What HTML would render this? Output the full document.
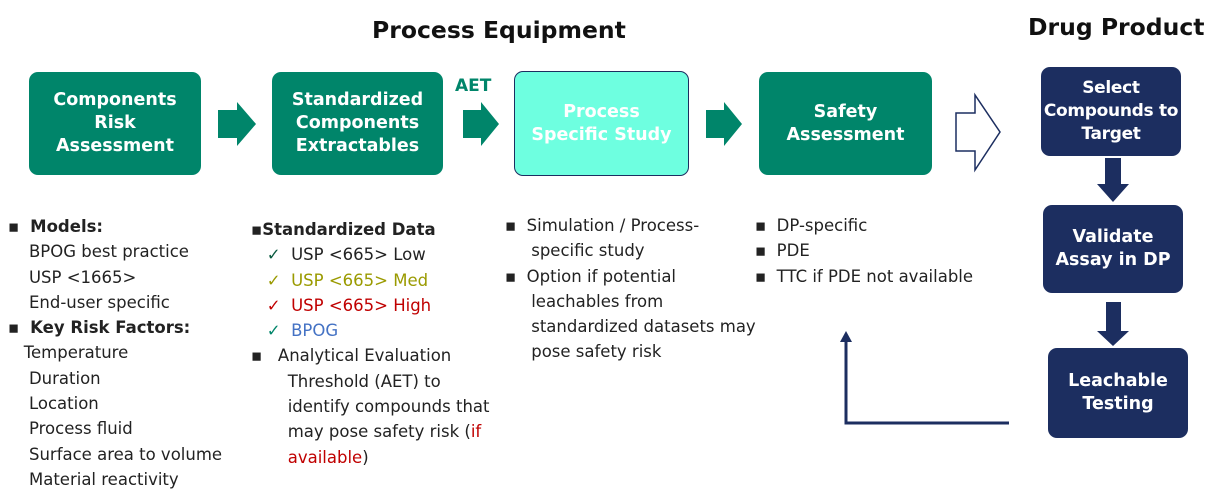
<!DOCTYPE html>
<html><head><style>
body{margin:0;width:1216px;height:496px;background:#fff;position:relative;font-family:"DejaVu Sans","Liberation Sans",sans-serif;overflow:hidden}
.b{position:absolute;display:flex;align-items:center;justify-content:center;text-align:center;color:#fff;font-weight:bold;font-size:17.5px;line-height:23px;border-radius:9px;box-sizing:border-box;white-space:nowrap}
.g{background:#00856a}
.n{background:#1c2e60}
.t{position:absolute;font-size:16.5px;color:#222;line-height:25.3px;white-space:nowrap}
h1{position:absolute;margin:0;font-size:23.5px;font-weight:bold;color:#111}
</style></head><body>
<h1 style="left:372px;top:16px">Process Equipment</h1>
<h1 style="left:1028px;top:13px">Drug Product</h1>
<div class="b g" style="left:29px;top:72px;width:172px;height:103px">Components<br>Risk<br>Assessment</div>
<div class="b g" style="left:272px;top:72px;width:171px;height:103px">Standardized<br>Components<br>Extractables</div>
<div class="b" style="left:514px;top:71px;width:175px;height:105px;background:#6effe0;border:1.5px solid #1c2e60">Process<br>Specific Study</div>
<div class="b g" style="left:759px;top:72px;width:173px;height:103px">Safety<br>Assessment</div>
<div class="b n" style="left:1041px;top:67px;width:140px;height:89px;font-size:17px;letter-spacing:-0.3px">Select<br>Compounds to<br>Target</div>
<div class="b n" style="left:1043px;top:205px;width:140px;height:88px">Validate<br>Assay in DP</div>
<div class="b n" style="left:1048px;top:348px;width:140px;height:90px">Leachable<br>Testing</div>
<div style="position:absolute;left:455px;top:76px;font-weight:bold;font-size:17px;color:#00856a">AET</div>
<svg width="1216" height="496" style="position:absolute;left:0;top:0">
<polygon points="218,110 237,110 237,102 256,124 237,146 237,138 218,138" fill="#00856a"/>
<polygon points="463,110 481,110 481,102 499,124 481,146 481,138 463,138" fill="#00856a"/>
<polygon points="706,110 724,110 724,102 742,124 724,146 724,138 706,138" fill="#00856a"/>
<polygon points="956,113 975,113 975,95 1000,132 975,170 975,151 956,151" fill="#fff" stroke="#1c2e60" stroke-width="1.5"/>
<polygon points="1105,158 1121,158 1121,184 1129,184 1113,202 1097,184 1105,184" fill="#1c2e60"/>
<polygon points="1106,302 1121,302 1121,331 1129,331 1113,346 1097,331 1106,331" fill="#1c2e60"/>
<polyline points="1009,423 846,423 846,340" fill="none" stroke="#1c2e60" stroke-width="3"/>
<polygon points="840,342 846,331 852,342" fill="#1c2e60"/>
</svg>
<div class="t" style="left:8px;top:214px">▪ <b>&nbsp;Models:</b><br>&nbsp;&nbsp;&nbsp;&nbsp;BPOG best practice<br>&nbsp;&nbsp;&nbsp;&nbsp;USP &lt;1665&gt;<br>&nbsp;&nbsp;&nbsp;&nbsp;End-user specific<br>▪ <b>&nbsp;Key Risk Factors:</b><br>&nbsp;&nbsp;&nbsp;Temperature<br>&nbsp;&nbsp;&nbsp;&nbsp;Duration<br>&nbsp;&nbsp;&nbsp;&nbsp;Location<br>&nbsp;&nbsp;&nbsp;&nbsp;Process fluid<br>&nbsp;&nbsp;&nbsp;&nbsp;Surface area to volume<br>&nbsp;&nbsp;&nbsp;&nbsp;Material reactivity</div>
<div class="t" style="left:251px;top:217px">▪<b>Standardized Data</b><br>&nbsp;&nbsp;&nbsp;<span style="color:#0a5a40">✓</span>&nbsp;&nbsp;USP &lt;665&gt; Low<br>&nbsp;&nbsp;&nbsp;<span style="color:#9a9a00">✓</span>&nbsp;&nbsp;<span style="color:#9a9a00">USP &lt;665&gt; Med</span><br>&nbsp;&nbsp;&nbsp;<span style="color:#c00000">✓</span>&nbsp;&nbsp;<span style="color:#c00000">USP &lt;665&gt; High</span><br>&nbsp;&nbsp;&nbsp;<span style="color:#00856a">✓</span>&nbsp;&nbsp;<span style="color:#4472c4">BPOG</span><br>▪&nbsp;&nbsp;&nbsp;Analytical Evaluation<br>&nbsp;&nbsp;&nbsp;&nbsp;&nbsp;&nbsp;&nbsp;Threshold (AET) to<br>&nbsp;&nbsp;&nbsp;&nbsp;&nbsp;&nbsp;&nbsp;identify compounds that<br>&nbsp;&nbsp;&nbsp;&nbsp;&nbsp;&nbsp;&nbsp;may pose safety risk (<span style="color:#c00000">if</span><br>&nbsp;&nbsp;&nbsp;&nbsp;&nbsp;&nbsp;&nbsp;<span style="color:#c00000">available</span>)</div>
<div class="t" style="left:505px;top:213px">▪&nbsp;&nbsp;Simulation / Process-<br>&nbsp;&nbsp;&nbsp;&nbsp;&nbsp;specific study<br>▪&nbsp;&nbsp;Option if potential<br>&nbsp;&nbsp;&nbsp;&nbsp;&nbsp;leachables from<br>&nbsp;&nbsp;&nbsp;&nbsp;&nbsp;standardized datasets may<br>&nbsp;&nbsp;&nbsp;&nbsp;&nbsp;pose safety risk</div>
<div class="t" style="left:755px;top:213px">▪&nbsp;&nbsp;DP-specific<br>▪&nbsp;&nbsp;PDE<br>▪&nbsp;&nbsp;TTC if PDE not available</div>
</body></html>
